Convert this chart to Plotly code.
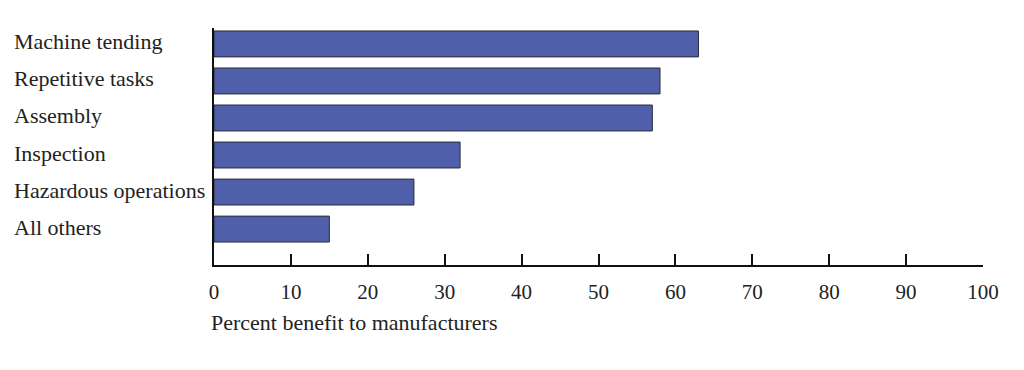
import plotly.graph_objects as go

categories = ["Machine tending", "Repetitive tasks", "Assembly", "Inspection",
              "Hazardous operations", "All others"]
values = [63, 58, 57, 32, 26, 15]
x_ticks = [0, 10, 20, 30, 40, 50, 60, 70, 80, 90, 100]
x_title = "Percent benefit to manufacturers"

FONT = "Liberation Serif"
OFF = 8  # page body margin
W, H = 1024, 370
PL, PR, PT, PB = 214, 983, 28, 265  # target plot box in screen pixels
L, R, T, B = PL - OFF, W - PR + OFF, PT - OFF, H - PB + OFF
plot_w = PR - PL
plot_h = PB - PT

fig = go.Figure()
fig.add_trace(go.Bar(
    x=values, y=categories, orientation="h",
    marker=dict(color="#4f5fa9", line=dict(color="#2b2b3a", width=1)),
    width=0.7,
))

annotations = []
for c in categories:
    annotations.append(dict(
        text=c, x=-(PL - 12) / plot_w, xref="paper", xanchor="left",
        y=c, yref="y", yanchor="middle", yshift=2, showarrow=False,
        font=dict(family=FONT, size=22, color="#222"),
    ))
annotations.append(dict(
    text=x_title, x=-(PL - 209) / plot_w, xref="paper", xanchor="left",
    y=-(322 - PB) / plot_h, yref="paper", yanchor="middle",
    showarrow=False, font=dict(family=FONT, size=22, color="#222"),
))

fig.update_layout(
    width=W, height=H,
    margin=dict(l=L, r=R, t=T, b=B),
    plot_bgcolor="white", paper_bgcolor="white",
    showlegend=False,
    annotations=annotations,
    font=dict(family=FONT, size=21, color="#222"),
)
fig.update_xaxes(
    range=[0, 100], tickvals=x_ticks, ticktext=[str(v) for v in x_ticks],
    ticks="inside", ticklen=11, tickwidth=2, tickcolor="#111",
    showline=True, linecolor="#111", linewidth=2, showgrid=False,
    zeroline=False, ticklabelstandoff=7,
    tickfont=dict(family=FONT, size=21, color="#222"),
)
fig.update_yaxes(
    categoryorder="array", categoryarray=categories,
    range=[5.97, -0.43], showticklabels=False, ticks="",
    showline=True, linecolor="#111", linewidth=2, showgrid=False,
    zeroline=False,
)

fig.write_html("out.html")
